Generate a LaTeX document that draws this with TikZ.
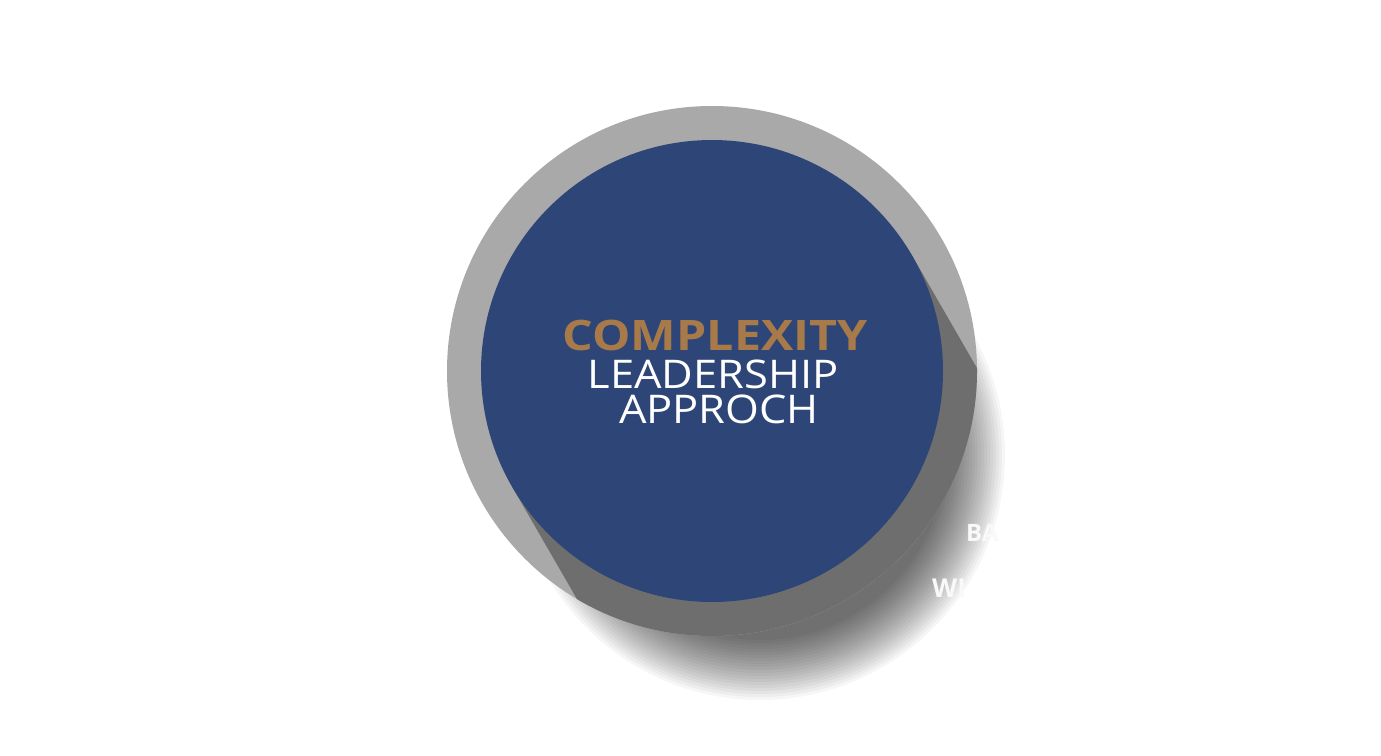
\documentclass[tikz,border=0pt]{standalone}
\usepackage{fontspec}
\setmainfont{Open Sans}
\usepackage{xcolor}
\usepackage{tikz}
\usetikzlibrary{positioning}
\definecolor{CLBlue}{HTML}{2E4677}
\definecolor{CLRing}{HTML}{A9A9A9}
\definecolor{CLShade}{HTML}{6E6E6E}
\definecolor{CLGold}{HTML}{A97A49}

\begin{document}
\begin{tikzpicture}[x=1pt,y=-1pt]
  \useasboundingbox (0,0) rectangle (1381,755);
  \fill[white] (0,0) rectangle (1381,755);
  % blurred drop shadow of the ring
  \foreach \r in {245,242,...,185}
    \fill[black,opacity=0.036] (760,455) circle (\r pt);
  \node[circle, fill=CLRing, minimum size=530pt, inner sep=0pt] (ring) at (712,371) {};
  % long shadow of the disc, kept inside the ring
  \begin{scope}
    \clip (712,371) circle (265pt);
    \fill[CLShade] (912,255.5) -- (1112,602) -- (712,833) -- (512,486.5) -- cycle;
  \end{scope}
  \node[circle, fill=CLBlue, minimum size=462pt, inner sep=0pt] (disc) at (712,371) {};
  \node[anchor=base, inner sep=0pt, text height=30pt, text depth=0pt, xscale=1.15, transform shape,
        text=CLGold, font=\fontsize{42}{42}\selectfont\bfseries] (complexity) at (715,350) {COMPLEXITY};
  \node[anchor=base, inner sep=0pt, text height=28pt, text depth=0pt, xscale=1.1, transform shape,
        text=white, font=\fontsize{39.5}{39.5}\selectfont] (leadership) at (713,388) {LEADERSHIP};
  \node[anchor=base, inner sep=0pt, text height=28pt, text depth=0pt, xscale=1.1, transform shape,
        text=white, font=\fontsize{39.5}{39.5}\selectfont] (approch) at (719,423) {APPROCH};
  % white labels, seen only over the shadow
  \node[anchor=base west, inner sep=0pt, text=white!95!gray, font=\fontsize{24}{24}\selectfont\bfseries] (ba) at (966,541) {BA};
  \node[anchor=base west, inner sep=0pt, text=white!95!gray, font=\fontsize{26}{26}\selectfont\bfseries] (wi) at (932,597) {WI};
\end{tikzpicture}
\end{document}
